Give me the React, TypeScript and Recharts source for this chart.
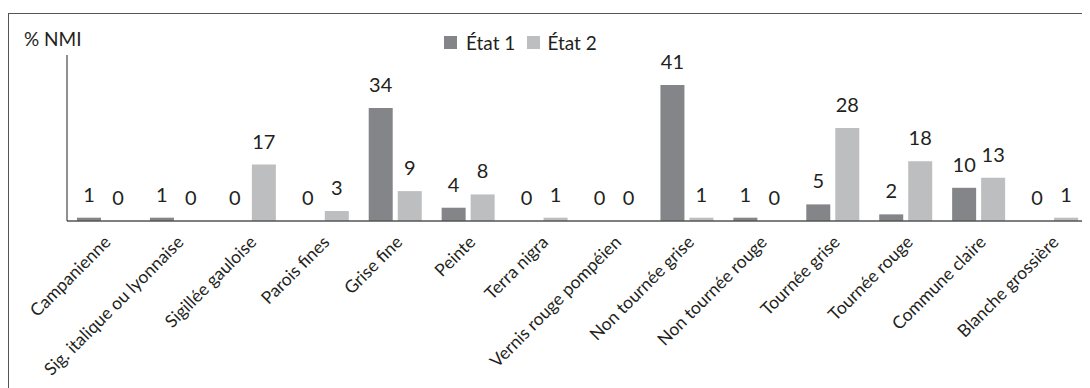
import { BarChart, Bar, XAxis, YAxis, LabelList } from 'recharts'

const categories = [
  'Campanienne',
  'Sig. italique ou lyonnaise',
  'Sigillée gauloise',
  'Parois fines',
  'Grise fine',
  'Peinte',
  'Terra nigra',
  'Vernis rouge pompéien',
  'Non tournée grise',
  'Non tournée rouge',
  'Tournée grise',
  'Tournée rouge',
  'Commune claire',
  'Blanche grossière',
]
const etat1 = [1, 1, 0, 0, 34, 4, 0, 0, 41, 1, 5, 2, 10, 0]
const etat2 = [0, 0, 17, 3, 9, 8, 1, 0, 1, 0, 28, 18, 13, 1]

const data = categories.map((name, i) => ({ name, etat1: etat1[i], etat2: etat2[i] }))

const FONT = 'Lato, "Open Sans", sans-serif'
const INK = '#231f20'
const DARK = '#848589'
const LIGHT = '#bdbec0'

function CatTick({ x, y, payload }: any) {
  return (
    <g transform={`translate(${x + 4},${y + 10})`}>
      <text x={0} y={0} dy="0.35em" textAnchor="end" transform="rotate(-45)" fontSize={17.5} fill={INK} fontFamily={FONT}>
        {payload.value}
      </text>
    </g>
  )
}

// draws the value even when the bar has no height
function ValueLabel({ x, y, width, value }: any) {
  return (
    <text x={x + width / 2} y={y - 16} textAnchor="middle" fontSize={20} fill={INK} fontFamily={FONT}>
      {value}
    </text>
  )
}

function LegendBox() {
  return (
    <div style={{ position: 'absolute', left: 435, top: 17, display: 'flex', alignItems: 'center', fontFamily: FONT, fontSize: 19, color: INK }}>
      <span style={{ width: 13, height: 13, background: DARK, display: 'inline-block', marginRight: 9 }} />
      <span style={{ marginRight: 12 }}>État 1</span>
      <span style={{ width: 13, height: 13, background: LIGHT, display: 'inline-block', marginRight: 7 }} />
      <span>État 2</span>
    </div>
  )
}

export default function App() {
  return (
    <div style={{ marginTop: 5, width: 1082, height: 375, borderTop: '1.5px solid #555', borderLeft: '1.5px solid #555', position: 'relative', boxSizing: 'border-box' }}>
      <div style={{ position: 'absolute', left: 15, top: 13, fontFamily: FONT, fontSize: 19, color: INK }}>% NMI</div>
      <LegendBox />
      <BarChart width={1080} height={374} data={data} margin={{ top: 41, right: 1, left: 57, bottom: 0 }} barSize={24} barGap={5}>
        <XAxis dataKey="name" interval={0} height={167} tickLine={false} axisLine={{ stroke: '#555', strokeWidth: 1.5 }} tick={<CatTick />} />
        <YAxis domain={[0, 50]} allowDataOverflow ticks={[0, 50]} width={1} tick={false} tickLine={false} axisLine={{ stroke: INK, strokeWidth: 1 }} />
        <Bar dataKey="etat1" name="État 1" fill={DARK} minPointSize={0.01} isAnimationActive={false}>
          <LabelList dataKey="etat1" content={<ValueLabel />} />
        </Bar>
        <Bar dataKey="etat2" name="État 2" fill={LIGHT} minPointSize={0.01} isAnimationActive={false}>
          <LabelList dataKey="etat2" content={<ValueLabel />} />
        </Bar>
      </BarChart>
    </div>
  )
}
